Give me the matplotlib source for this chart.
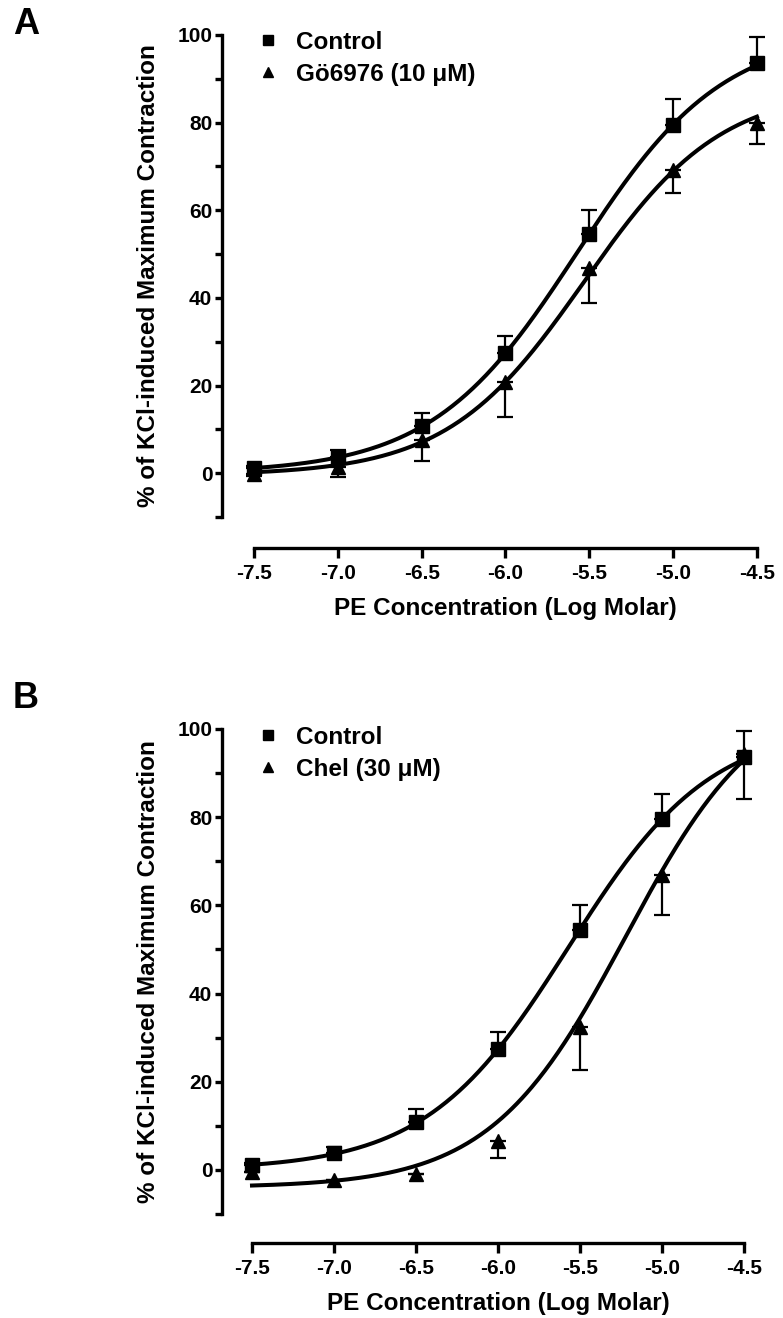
"""
Concentration-response curves for PE, control vs. inhibitor (panels A and B).
"""

import numpy as np
import matplotlib
matplotlib.use('Agg')
import matplotlib.pyplot as plt
from matplotlib.ticker import MultipleLocator

plt.rcParams['font.family'] = ['Liberation Sans', 'DejaVu Sans']
plt.rcParams['font.weight'] = 'bold'

# log molar PE concentrations
log_conc = [-7.5, -7.0, -6.5, -6.0, -5.5, -5.0, -4.5]

# control (same in both panels), error bars drawn upwards
control = [1.1, 3.8, 10.8, 27.4, 54.5, 79.5, 93.7]
control_err = [0.5, 1.5, 3.0, 3.9, 5.6, 5.8, 5.8]

# Go6976 10 uM, error bars drawn downwards
go6976 = [-0.2, 1.5, 7.5, 20.9, 46.8, 69.2, 80.0]
go6976_err = [0.5, 2.3, 4.8, 8.0, 7.9, 5.2, 4.8]

# chelerythrine 30 uM, error bars drawn downwards
chel = [-0.5, -2.3, -1.0, 6.6, 32.4, 67.0, 94.3]
chel_err = [0.0, 0.0, 0.0, 4.0, 9.7, 9.2, 10.1]

# sigmoid fit parameters: bottom, top, logEC50, hill slope
control_fit = [0.0, 101.0, -5.57, 1.0]
go6976_fit = [-0.5, 88.0, -5.53, 1.06]
chel_fit = [-4.0, 110.0, -5.22, 1.05]

x_ticks = [-7.5, -7.0, -6.5, -6.0, -5.5, -5.0, -4.5]
x_tick_labels = ['-7.5', '-7.0', '-6.5', '-6.0', '-5.5', '-5.0', '-4.5']


def sigmoid(x, fit):
    bottom, top, ec50, hill = fit
    return bottom + (top - bottom) / (1 + 10 ** ((ec50 - x) * hill))


def draw_panel(ax, treat, treat_err, treat_fit, treat_label, xlim, drop):
    xs = np.linspace(-7.5, -4.5, 300)
    ax.plot(xs, sigmoid(xs, control_fit), color='black', lw=2.9, zorder=2, clip_on=False)
    ax.plot(xs, sigmoid(xs, treat_fit), color='black', lw=2.9, zorder=2, clip_on=False)

    zeros = np.zeros(len(log_conc))
    ax.errorbar(log_conc, control, yerr=[zeros, control_err], fmt='none', ecolor='black',
                elinewidth=1.6, capsize=5.5, capthick=1.6, zorder=3, clip_on=False)
    ax.errorbar(log_conc, treat, yerr=[treat_err, zeros], fmt='none', ecolor='black',
                elinewidth=1.6, capsize=5.5, capthick=1.6, zorder=3, clip_on=False)

    ax.plot(log_conc, control, 's', color='black', ms=9.5, ls='none', label='Control',
            zorder=4, clip_on=False)
    ax.plot(log_conc, treat, '^', color='black', ms=9.5, ls='none', label=treat_label,
            zorder=4, clip_on=False)

    ax.set_xlim(*xlim)
    ax.set_ylim(-10, 100)
    for side in ['top', 'right']:
        ax.spines[side].set_visible(False)
    ax.spines['left'].set_linewidth(2.4)
    ax.spines['bottom'].set_linewidth(2.4)
    ax.spines['left'].set_bounds(-10, 100)
    ax.spines['bottom'].set_bounds(-7.5, -4.5)
    ax.spines['bottom'].set_position(('outward', drop))

    ax.set_xticks(x_ticks)
    ax.set_xticklabels(x_tick_labels)
    ax.yaxis.set_major_locator(MultipleLocator(20))
    ax.yaxis.set_minor_locator(MultipleLocator(10))
    ax.tick_params(axis='x', length=7, width=2.4, pad=4.5, labelsize=15)
    ax.tick_params(axis='y', which='both', length=5, width=2.4, pad=2, labelsize=15)

    ax.set_xlabel('PE Concentration (Log Molar)', fontsize=17.5, fontweight='bold')
    ax.set_ylabel('% of KCl-induced Maximum Contraction', fontsize=17.5, fontweight='bold')


fig = plt.figure(figsize=(7.83, 13.18), dpi=100)
W, H = 783.0, 1318.0

# panel A
axA = fig.add_axes([222 / W, 1 - 517 / H, 548 / W, 482 / H])
draw_panel(axA, go6976, go6976_err, go6976_fit, 'G\u00f66976 (10 \u03bcM)', (-7.691, -4.422), 22.3)
axA.xaxis.set_label_coords((505 - 222) / 548, -0.166)
axA.yaxis.set_label_coords((160 - 222) / 548, 0.5)
axA.legend(loc='upper left', bbox_to_anchor=(256 / W, 1 - 31 / H), bbox_transform=fig.transFigure,
           frameon=False, fontsize=17.5, markerscale=0.75, handlelength=1.0,
           handletextpad=0.65, labelspacing=0.35, borderpad=0, borderaxespad=0)
fig.text(26 / W, 1 - 24 / H, 'A', fontsize=26, fontweight='bold', ha='center', va='center')

# panel B
axB = fig.add_axes([222 / W, 1 - 1214 / H, 538 / W, 485 / H])
draw_panel(axB, chel, chel_err, chel_fit, 'Chel (30 \u03bcM)', (-7.683, -4.402), 20.9)
axB.xaxis.set_label_coords((498 - 222) / 538, -0.161)
axB.yaxis.set_label_coords((160 - 222) / 538, 0.5)
axB.legend(loc='upper left', bbox_to_anchor=(256 / W, 1 - 726 / H), bbox_transform=fig.transFigure,
           frameon=False, fontsize=17.5, markerscale=0.75, handlelength=1.0,
           handletextpad=0.65, labelspacing=0.35, borderpad=0, borderaxespad=0)
fig.text(26 / W, 1 - 699 / H, 'B', fontsize=26, fontweight='bold', ha='center', va='center')

fig.savefig('out.png', dpi=100)
